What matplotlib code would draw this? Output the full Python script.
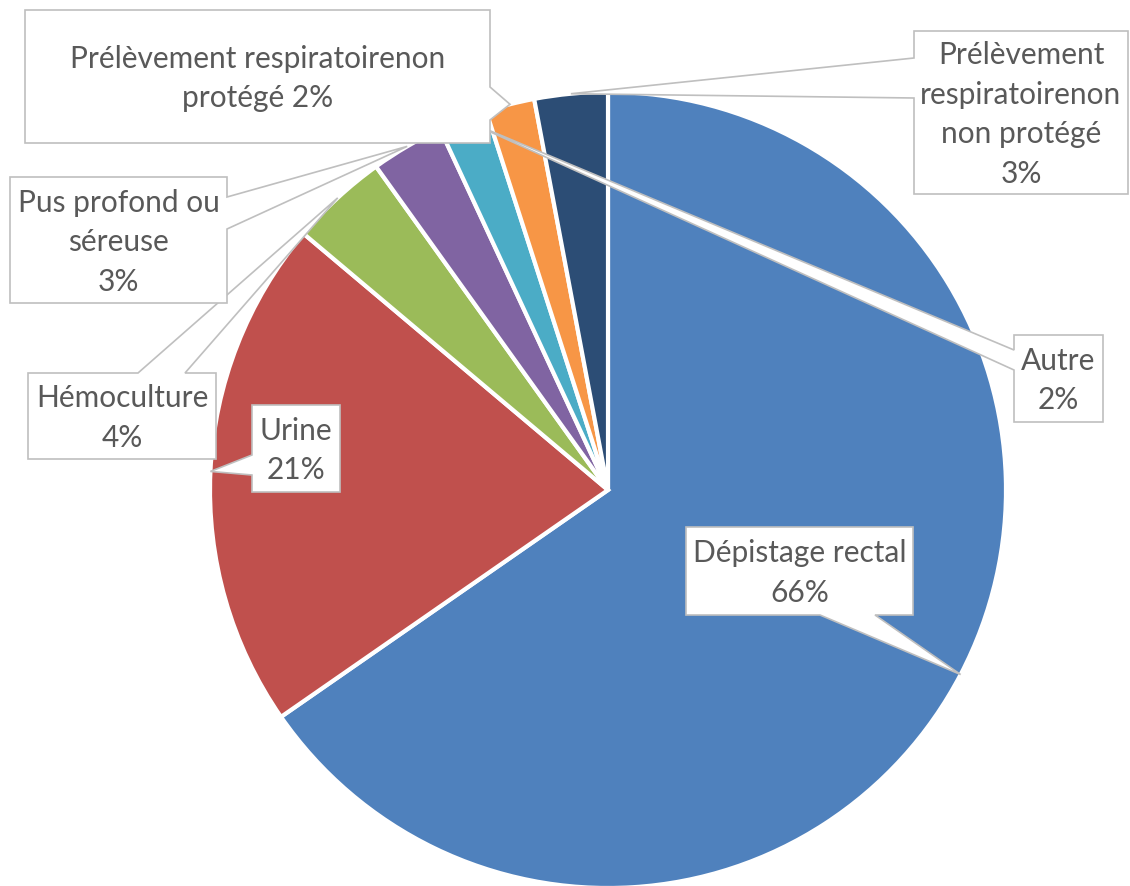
import matplotlib.pyplot as plt
from matplotlib.patches import Polygon
import numpy as np

plt.rcParams['font.family'] = ['Lato', 'DejaVu Sans']

labels = ['Dépistage rectal', 'Urine', 'Hémoculture', 'Pus profond ou\nséreuse',
          'Autre', 'Prélèvement respiratoirenon\nprotégé',
          'Prélèvement\nrespiratoirenon\nnon protégé']
values = [66, 21, 4, 3, 2, 2, 3]
colors = ['#4F81BD', '#C0504D', '#9BBB59', '#8064A2', '#4BACC6', '#F79646', '#2C4D75']
# how each label text joins its percentage
pct_sep = ['\n', '\n', '\n', '\n', '\n', ' ', '\n']

# callout boxes in pixel units: (x0, y0, x1, y1), side of the pointer, pointer base
callouts = [
    ((686, 527, 913, 615), 'bottom', (820, 875)),
    ((252, 405, 340, 492), 'left', (455, 475)),
    ((28, 373, 216, 459), 'top', (138, 185)),
    ((10, 177, 227, 303), 'right', (197, 229)),
    ((1014, 335, 1103, 422), 'left', (350, 370)),
    ((25, 10, 490, 143), 'right', (87, 120)),
    ((914, 31, 1128, 194), 'left', (58, 98)),
]

W, H = 1130, 886
fig = plt.figure(figsize=(W / 100, H / 100), dpi=100)
ax = fig.add_axes([0, 0, 1, 1])

# y axis runs downward, so counterclockwise in data is clockwise on screen
wedges, _ = ax.pie(values, colors=colors, startangle=-90, counterclock=True,
                   center=(608, 490), radius=398,
                   wedgeprops=dict(edgecolor='white', linewidth=3))

ax.set_xlim(0, W)
ax.set_ylim(H, 0)
ax.set_aspect('equal')
ax.set_axis_off()


def callout_poly(box, side, base, tip):
    x0, y0, x1, y1 = box
    a, b = base
    pts = [(x0, y0)]
    if side == 'top':
        pts += [(a, y0), tip, (b, y0)]
    pts.append((x1, y0))
    if side == 'right':
        pts += [(x1, a), tip, (x1, b)]
    pts.append((x1, y1))
    if side == 'bottom':
        pts += [(b, y1), tip, (a, y1)]
    pts.append((x0, y1))
    if side == 'left':
        pts += [(x0, b), tip, (x0, a)]
    return pts


for w, lab, v, sep, (box, side, base) in zip(wedges, labels, values, pct_sep, callouts):
    mid = np.deg2rad((w.theta1 + w.theta2) / 2)
    cx, cy = w.center
    tip = (cx + w.r * np.cos(mid), cy + w.r * np.sin(mid))
    ax.add_patch(Polygon(callout_poly(box, side, base, tip), closed=True,
                         facecolor='white', edgecolor='#BFBFBF', linewidth=1.2,
                         zorder=5))
    x0, y0, x1, y1 = box
    ax.text((x0 + x1) / 2, (y0 + y1) / 2 + 2, f'{lab}{sep}{v}%', ha='center',
            va='center', fontsize=21.5, color='#595959', linespacing=1.5,
            zorder=6)

fig.savefig('out.png', dpi=100, facecolor='white')
